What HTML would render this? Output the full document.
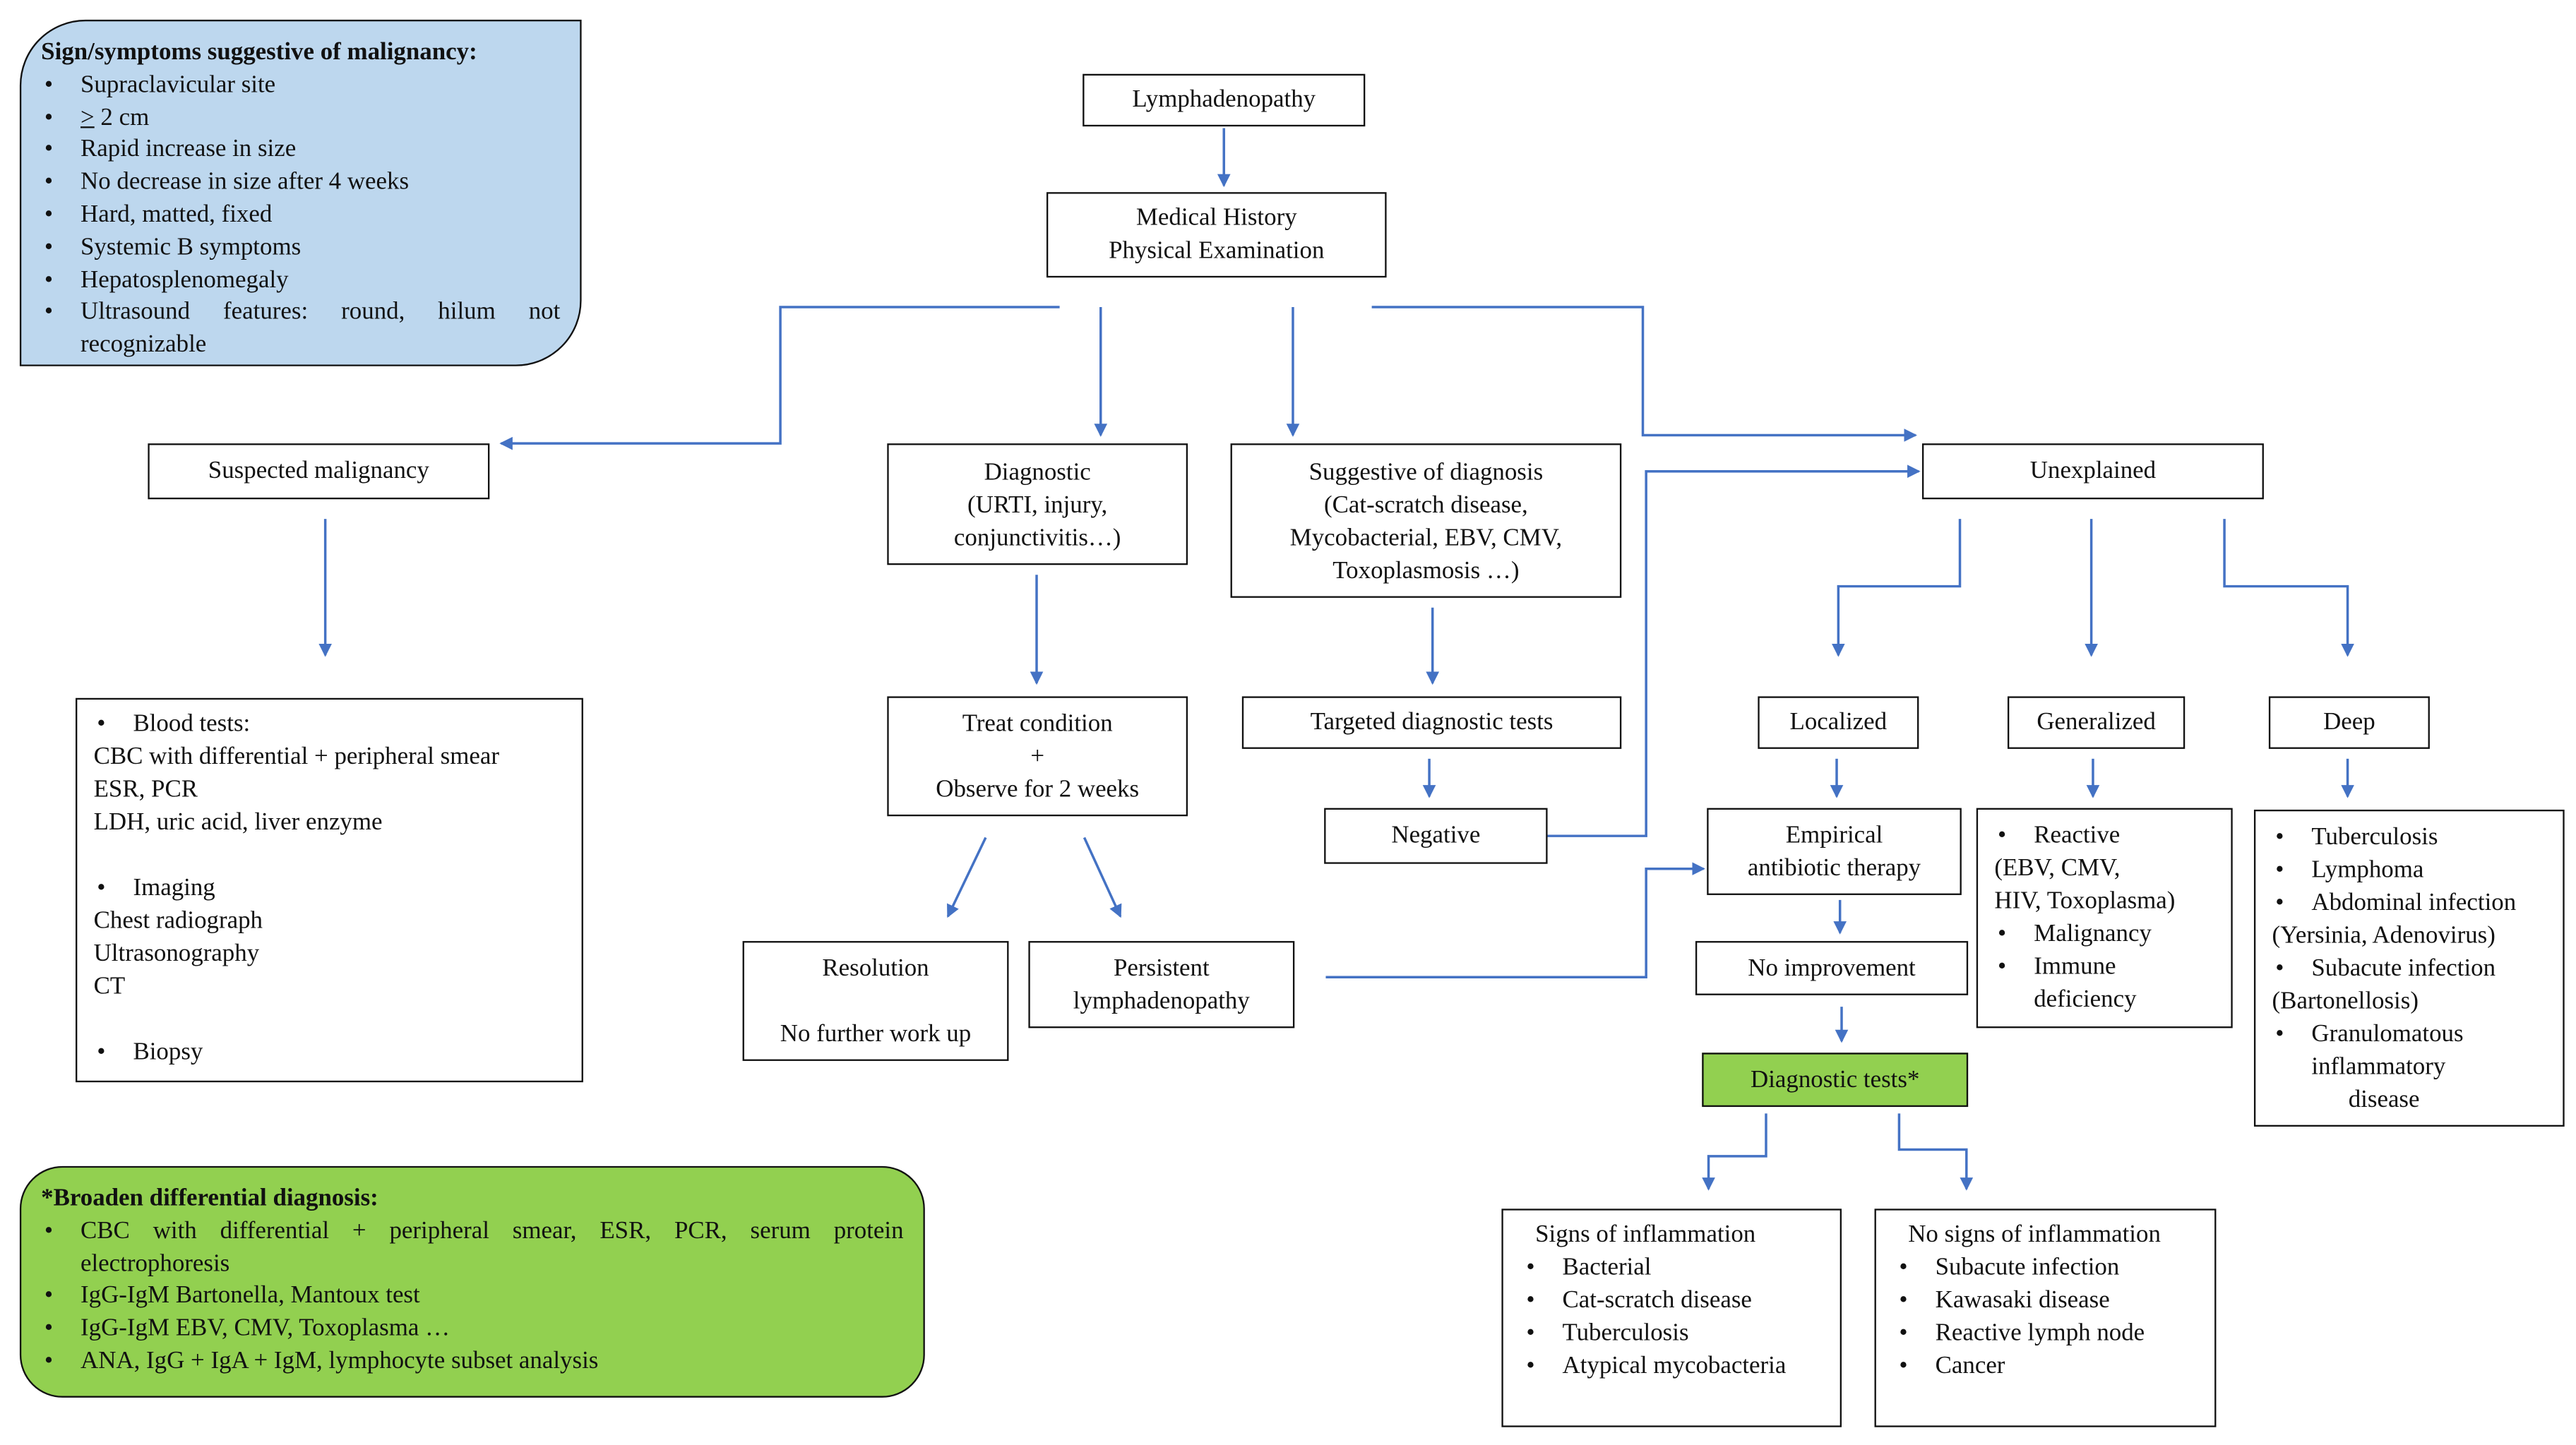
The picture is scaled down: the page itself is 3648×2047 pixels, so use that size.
<!DOCTYPE html>
<html><head><meta charset="utf-8">
<style>
html,body{margin:0;padding:0;background:#fff;}
body{width:3648px;height:2047px;overflow:hidden;position:relative;}
#s{position:absolute;left:0;top:0;width:1568px;height:880px;transform:scale(2.3265);transform-origin:0 0;font-family:"Liberation Serif",serif;font-size:15px;color:#111;}
.b{position:absolute;border:1.3px solid #111;box-sizing:border-box;background:#fff;text-align:center;line-height:20px;}
.l{text-align:left;}
ul{margin:0;padding:0;list-style:none;}
li{position:relative;padding-left:24px;}
li:before{content:"•";position:absolute;left:2px;}
svg{position:absolute;left:0;top:0;}
</style></head><body><div id="s">
<svg width="1568" height="880" viewBox="0 0 1568 880">
<defs><marker id="a" markerWidth="8" markerHeight="8" refX="7" refY="4" orient="auto" markerUnits="userSpaceOnUse"><path d="M0,0 L8,4 L0,8 z" fill="#4472c4"/></marker></defs>
<g fill="none" stroke="#4472c4" stroke-width="1.5" marker-end="url(#a)">
<path d="M745,78 V113"/>
<path d="M645,187 H475 V270 H305"/>
<path d="M670,187 V265"/>
<path d="M787,187 V265"/>
<path d="M835,187 H1000 V265 H1166"/>
<path d="M198,316 V399"/>
<path d="M631,350 V416"/>
<path d="M872,370 V416"/>
<path d="M870,462 V485"/>
<path d="M941,509 H1002 V287 H1168"/>
<path d="M1193,316 V357 H1119 V399"/>
<path d="M1273,316 V399"/>
<path d="M1354,316 V357 H1429 V399"/>
<path d="M1118,462 V485"/>
<path d="M1274,462 V485"/>
<path d="M1429,462 V485"/>
<path d="M600,510 L577,558"/>
<path d="M660,510 L682,558"/>
<path d="M807,595 H1002 V529 H1037"/>
<path d="M1120,548 V568"/>
<path d="M1121,613 V634"/>
<path d="M1075,678 V704 H1040 V724"/>
<path d="M1156,678 V700 H1197 V724"/>
</g></svg>

<div class="b l" style="left:12px;top:12px;width:342px;height:211px;background:#bdd7ee;border-radius:40px 0 40px 0;padding:10px 12px 0 12px;line-height:19.8px;">
<b>Sign/symptoms suggestive of malignancy:</b>
<ul><li>Supraclavicular site</li><li><u>&gt;</u> 2 cm</li><li>Rapid increase in size</li><li>No decrease in size after 4 weeks</li><li>Hard, matted, fixed</li><li>Systemic B symptoms</li><li>Hepatosplenomegaly</li><li style="text-align:justify;text-align-last:left;">Ultrasound&nbsp;&nbsp; features:&nbsp;&nbsp; round,&nbsp;&nbsp; hilum&nbsp;&nbsp; not recognizable</li></ul>
</div>

<div class="b" style="left:659px;top:45px;width:172px;height:32px;padding-top:5px;">Lymphadenopathy</div>
<div class="b" style="left:637px;top:117px;width:207px;height:52px;padding-top:5px;">Medical History<br>Physical Examination</div>
<div class="b" style="left:90px;top:270px;width:208px;height:34px;padding-top:6px;">Suspected malignancy</div>
<div class="b" style="left:540px;top:270px;width:183px;height:74px;padding-top:7px;">Diagnostic<br>(URTI, injury,<br>conjunctivitis…)</div>
<div class="b" style="left:749px;top:270px;width:238px;height:94px;padding-top:7px;">Suggestive of diagnosis<br>(Cat-scratch disease,<br>Mycobacterial, EBV, CMV,<br>Toxoplasmosis …)</div>
<div class="b" style="left:1170px;top:270px;width:208px;height:34px;padding-top:6px;">Unexplained</div>

<div class="b l" style="left:46px;top:425px;width:309px;height:234px;padding:5px 10px;">
<ul><li>Blood tests:</li></ul>CBC with differential + peripheral smear<br>ESR, PCR<br>LDH, uric acid, liver enzyme<br><br><ul><li>Imaging</li></ul>Chest radiograph<br>Ultrasonography<br>CT<br><br><ul><li>Biopsy</li></ul>
</div>

<div class="b" style="left:540px;top:424px;width:183px;height:73px;padding-top:6px;">Treat condition<br>+<br>Observe for 2 weeks</div>
<div class="b" style="left:756px;top:424px;width:231px;height:32px;padding-top:5px;">Targeted diagnostic tests</div>
<div class="b" style="left:806px;top:492px;width:136px;height:34px;padding-top:6px;">Negative</div>
<div class="b" style="left:1070px;top:424px;width:98px;height:32px;padding-top:5px;">Localized</div>
<div class="b" style="left:1222px;top:424px;width:108px;height:32px;padding-top:5px;">Generalized</div>
<div class="b" style="left:1381px;top:424px;width:98px;height:32px;padding-top:5px;">Deep</div>
<div class="b" style="left:1039px;top:492px;width:155px;height:53px;padding-top:6px;">Empirical<br>antibiotic therapy</div>

<div class="b l" style="left:1203px;top:492px;width:156px;height:134px;padding:6px 10px;">
<ul><li>Reactive</li></ul>(EBV, CMV,<br>HIV, Toxoplasma)<ul><li>Malignancy</li><li>Immune<br>deficiency</li></ul></div>

<div class="b l" style="left:1372px;top:493px;width:189px;height:193px;padding:6px 10px;">
<ul><li>Tuberculosis</li><li>Lymphoma</li><li>Abdominal infection</li></ul>(Yersinia, Adenovirus)<ul><li>Subacute infection</li></ul>(Bartonellosis)<ul><li>Granulomatous<br><span style="margin-left:0">inflammatory</span><br>&nbsp;&nbsp;&nbsp;&nbsp;&nbsp;&nbsp;disease</li></ul></div>

<div class="b" style="left:452px;top:573px;width:162px;height:73px;padding-top:6px;">Resolution<br><br>No further work up</div>
<div class="b" style="left:626px;top:573px;width:162px;height:53px;padding-top:6px;">Persistent<br>lymphadenopathy</div>
<div class="b" style="left:1032px;top:573px;width:166px;height:33px;padding-top:6px;">No improvement</div>
<div class="b" style="left:1036px;top:641px;width:162px;height:33px;padding-top:6px;background:#92d050;">Diagnostic tests*</div>

<div class="b l" style="left:12px;top:710px;width:551px;height:141px;background:#92d050;border-radius:26px;padding:10px 12px 0 12px;line-height:19.8px;">
<b>*Broaden differential diagnosis:</b>
<ul><li style="text-align:justify;">CBC with differential + peripheral smear, ESR, PCR, serum protein electrophoresis</li><li>IgG-IgM Bartonella, Mantoux test</li><li>IgG-IgM EBV, CMV, Toxoplasma …</li><li>ANA, IgG + IgA + IgM, lymphocyte subset analysis</li></ul>
</div>

<div class="b l" style="left:914px;top:736px;width:207px;height:133px;padding:5px 12px;">&nbsp;&nbsp;Signs of inflammation<ul><li>Bacterial</li><li>Cat-scratch disease</li><li>Tuberculosis</li><li>Atypical mycobacteria</li></ul></div>
<div class="b l" style="left:1141px;top:736px;width:208px;height:133px;padding:5px 12px;">&nbsp;&nbsp;No signs of inflammation<ul><li>Subacute infection</li><li>Kawasaki disease</li><li>Reactive lymph node</li><li>Cancer</li></ul></div>
</div></body></html>
